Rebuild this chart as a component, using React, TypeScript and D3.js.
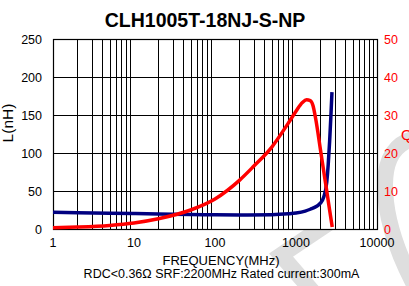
import React, { useRef, useEffect } from 'react';
import * as d3 from 'd3';

// inductance curve (MHz, nH)
const freqL = [1, 2, 5, 10, 20, 50, 100, 200, 500, 800, 1000, 1300, 1500, 1800, 2000, 2200, 2400, 2500, 2600, 2700, 2780];
const inductance = [22, 21.5, 20.8, 20.3, 19.8, 19.2, 18.6, 18.4, 18.8, 20, 21, 23.5, 26, 30, 34, 42, 62, 85, 115, 150, 180];

// Q curve (MHz, Q)
const freqQ = [1, 2, 5, 10, 20, 50, 100, 200, 300, 500, 800, 1000, 1200, 1350, 1500, 1620, 1750, 2000, 2300, 2600, 2800];
const qValues = [0.3, 0.5, 0.95, 1.6, 2.7, 5, 7.9, 12.8, 16.5, 21.5, 27.8, 31, 33.3, 34, 33.8, 32.5, 29, 21, 12.5, 5, 0.5];

const xTicks = [1, 10, 100, 1000, 10000];
const leftTicks = [0, 50, 100, 150, 200, 250];
const rightTicks = [0, 10, 20, 30, 40, 50];

const title = 'CLH1005T-18NJ-S-NP';
const xTitle = 'FREQUENCY(MHz)';
const note = 'RDC<0.36\u03A9 SRF:2200MHz Rated current:300mA';

const App = () => {
  const ref = useRef<SVGSVGElement | null>(null);

  useEffect(() => {
    if (!ref.current) return;
    const svg = d3.select(ref.current);
    svg.selectAll('*').remove();

    const W = 409, H = 286;
    const margin = { top: 39, right: 32, bottom: 57, left: 53 };
    const width = W - margin.left - margin.right;
    const height = H - margin.top - margin.bottom;
    const font = '"Liberation Sans", Arial, sans-serif';

    // background watermark
    const wm = svg.append('g').attr('fill', 'none').attr('stroke', '#dedede').attr('stroke-width', 16);
    wm.append('path').attr('d', 'M 345 212 L 281 255 L 320 300');
    wm.append('path').attr('d', 'M 418 138 C 396 141, 385 158, 385 185 C 385 215, 395 250, 418 292');

    const x = d3.scaleLog().domain([1, 10000]).range([0, width]);
    const yL = d3.scaleLinear().domain([0, 250]).range([height, 0]);
    const yQ = d3.scaleLinear().domain([0, 50]).range([height, 0]);

    const g = svg.append('g').attr('transform', `translate(${margin.left},${margin.top})`);

    g.append('rect').attr('width', width).attr('height', height).attr('fill', '#fff');

    // vertical grid (log minor ticks)
    const minor: number[] = [];
    for (let d = 1; d < 10000; d *= 10) {
      for (let k = 2; k <= 9; k++) minor.push(d * k);
    }
    g.selectAll('line.vg')
      .data(minor)
      .enter()
      .append('line')
      .attr('x1', d => Math.round(x(d)) + 0.5)
      .attr('x2', d => Math.round(x(d)) + 0.5)
      .attr('y1', 0)
      .attr('y2', height)
      .attr('stroke', '#000')
      .attr('stroke-width', 1);

    // horizontal grid
    g.selectAll('line.hg')
      .data(leftTicks.slice(1, -1))
      .enter()
      .append('line')
      .attr('x1', 0)
      .attr('x2', width)
      .attr('y1', d => Math.round(yL(d)) + 0.5)
      .attr('y2', d => Math.round(yL(d)) + 0.5)
      .attr('stroke', '#000')
      .attr('stroke-width', 1);

    g.append('rect')
      .attr('x', 0.5).attr('y', 0.5)
      .attr('width', width).attr('height', height)
      .attr('fill', 'none').attr('stroke', '#000').attr('stroke-width', 1.2);

    // curves
    const lineL = d3.line<number>()
      .x((d, i) => x(freqL[i]))
      .y(d => yL(d))
      .curve(d3.curveMonotoneX);
    const lineQ = d3.line<number>()
      .x((d, i) => x(freqQ[i]))
      .y(d => yQ(d))
      .curve(d3.curveMonotoneX);

    g.append('path').datum(inductance).attr('d', lineL)
      .attr('fill', 'none').attr('stroke', '#000080').attr('stroke-width', 3.5)
      .attr('stroke-linejoin', 'round');
    g.append('path').datum(qValues).attr('d', lineQ)
      .attr('fill', 'none').attr('stroke', '#ff0000').attr('stroke-width', 3.5)
      .attr('stroke-linejoin', 'round');

    // left axis labels
    g.selectAll('text.yl')
      .data(leftTicks)
      .enter()
      .append('text')
      .attr('x', -11)
      .attr('y', d => yL(d) + 4.5)
      .attr('text-anchor', 'end')
      .attr('font-family', font).attr('font-size', 12.5)
      .attr('fill', '#000')
      .text(d => d);

    // right axis labels
    g.selectAll('text.yr')
      .data(rightTicks)
      .enter()
      .append('text')
      .attr('x', width + 7)
      .attr('y', d => yQ(d) + 4.5)
      .attr('font-family', font).attr('font-size', 12.5)
      .attr('fill', '#ff0000')
      .text(d => d);

    // x axis labels
    g.selectAll('text.xl')
      .data(xTicks)
      .enter()
      .append('text')
      .attr('x', d => x(d))
      .attr('y', height + 18)
      .attr('text-anchor', 'middle')
      .attr('font-family', font).attr('font-size', 12.5)
      .attr('fill', '#000')
      .text(d => d);

    svg.append('text')
      .attr('x', 205).attr('y', 27)
      .attr('text-anchor', 'middle')
      .attr('font-family', font).attr('font-size', 19.5).attr('font-weight', 'bold')
      .text(title);

    svg.append('text')
      .attr('x', 221).attr('y', 265)
      .attr('text-anchor', 'middle')
      .attr('font-family', font).attr('font-size', 13)
      .text(xTitle);

    svg.append('text')
      .attr('x', 221.5).attr('y', 278)
      .attr('text-anchor', 'middle')
      .attr('font-family', font).attr('font-size', 12.5)
      .text(note);

    svg.append('text')
      .attr('transform', 'translate(13,123) rotate(-90)')
      .attr('text-anchor', 'middle')
      .attr('font-family', font).attr('font-size', 15.5)
      .text('L(nH)');

    svg.append('text')
      .attr('x', 401).attr('y', 140)
      .attr('font-family', font).attr('font-size', 15)
      .attr('fill', '#ff0000')
      .text('Q');
  }, []);

  return (
    <svg
      ref={ref}
      width={409}
      height={286}
      style={{ position: 'absolute', left: 0, top: 0, background: '#fff' }}
    />
  );
};

export default App;
